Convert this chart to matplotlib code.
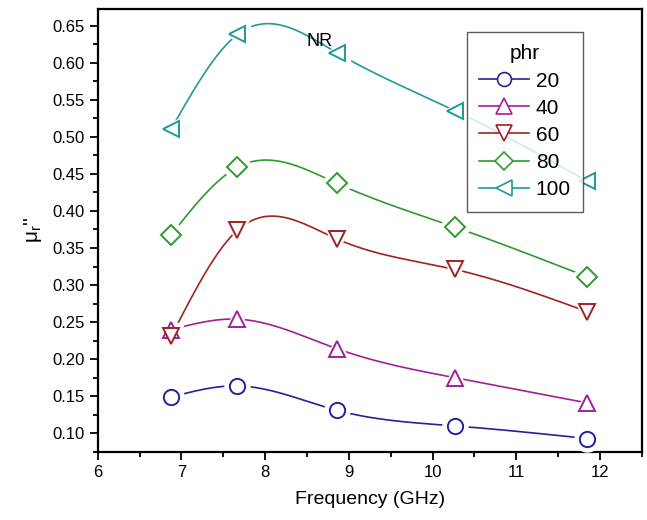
import numpy as np
import matplotlib
matplotlib.use("Agg")
import matplotlib.pyplot as plt
from matplotlib.lines import Line2D

plt.rcParams['font.family'] = ['Liberation Sans', 'DejaVu Sans']
plt.rcParams['mathtext.fontset'] = 'custom'
plt.rcParams['mathtext.rm'] = 'Liberation Sans'
plt.rcParams['mathtext.it'] = 'Liberation Sans'

# DATA
freq = [6.88, 7.67, 8.86, 10.27, 11.85]
phr_labels = ['20', '40', '60', '80', '100']
mu_20 = [0.149, 0.164, 0.131, 0.110, 0.093]
mu_40 = [0.240, 0.254, 0.214, 0.175, 0.141]
mu_60 = [0.231, 0.374, 0.362, 0.321, 0.264]
mu_80 = [0.368, 0.459, 0.437, 0.378, 0.311]
mu_100 = [0.511, 0.638, 0.613, 0.535, 0.440]

series = [mu_20, mu_40, mu_60, mu_80, mu_100]
colors = ['#22229a', '#a0209a', '#a02222', '#2e9a2e', '#20999a']
markers = ['o', '^', 'v', 'D', '<']
msizes = [11, 12, 12, 10, 12]


def natural_spline(x, y, n=200):
    # natural cubic spline through the points, just for the smooth connection
    x = np.asarray(x, float)
    y = np.asarray(y, float)
    k = len(x)
    h = np.diff(x)
    A = np.zeros((k, k))
    b = np.zeros(k)
    A[0, 0] = A[-1, -1] = 1
    for i in range(1, k - 1):
        A[i, i - 1] = h[i - 1]
        A[i, i] = 2 * (h[i - 1] + h[i])
        A[i, i + 1] = h[i]
        b[i] = 3 * ((y[i + 1] - y[i]) / h[i] - (y[i] - y[i - 1]) / h[i - 1])
    c = np.linalg.solve(A, b)
    xs = np.linspace(x[0], x[-1], n)
    ys = np.empty_like(xs)
    for j, xv in enumerate(xs):
        i = min(np.searchsorted(x, xv, side='right') - 1, k - 2)
        d = xv - x[i]
        bi = (y[i + 1] - y[i]) / h[i] - h[i] * (2 * c[i] + c[i + 1]) / 3
        di = (c[i + 1] - c[i]) / (3 * h[i])
        ys[j] = y[i] + bi * d + c[i] * d ** 2 + di * d ** 3
    return xs, ys


fig = plt.figure(figsize=(6.47, 5.20), dpi=100)
ax = fig.add_axes([0.151, 0.131, 0.841, 0.852])

handles = []
for vals, col, mk, ms, lab in zip(series, colors, markers, msizes, phr_labels):
    xs, ys = natural_spline(freq, vals)
    ax.plot(xs, ys, color=col, lw=1.2, zorder=2)
    # white halo gives the gap between line and marker
    ax.plot(freq, vals, ls='none', marker=mk, ms=ms + 7, mfc='white', mec='white', zorder=3)
    ax.plot(freq, vals, ls='none', marker=mk, ms=ms, mfc='white', mec=col, mew=1.4, zorder=4)
    handles.append(Line2D([], [], color=col, lw=1.2, marker=mk, ms=ms - 1, mfc='white', mec=col, mew=1.2, label=lab))

ax.text(8.65, 0.628, 'NR', fontsize=13, ha='center', va='center', zorder=5)

ax.set_xlim(6, 12.5)
ax.set_ylim(0.075, 0.6725)
ax.set_xticks(np.arange(6, 12.5, 1))
ax.set_xticks(np.arange(6, 12.6, 0.5), minor=True)
ax.set_yticks(np.arange(0.10, 0.651, 0.05))
ax.set_yticks(np.arange(0.075, 0.67, 0.025), minor=True)
ax.yaxis.set_major_formatter(plt.FormatStrFormatter('%.2f'))

ax.tick_params(which='major', direction='out', length=6, width=1.3, labelsize=12, top=False, right=False)
ax.tick_params(which='minor', direction='out', length=3.5, width=1.3, top=False, right=False)
for s in ax.spines.values():
    s.set_linewidth(1.6)

ax.set_xlabel('Frequency (GHz)', fontsize=14, labelpad=8)
ax.set_ylabel(r"$\mu_r$''", fontsize=15, labelpad=6)

leg = ax.legend(handles=handles, title='phr', loc='upper left', bbox_to_anchor=(0.6785, 0.948),
                borderaxespad=0, fontsize=15, title_fontsize=15, handlelength=2.4,
                labelspacing=0.39, handletextpad=0.3, borderpad=0.6, fancybox=False,
                frameon=True, edgecolor='#333333')
leg.get_frame().set_linewidth(1.0)
leg.set_zorder(6)

fig.savefig('out.png', dpi=100)
